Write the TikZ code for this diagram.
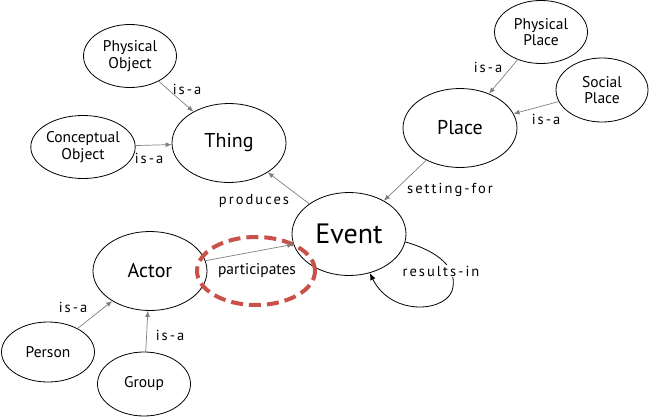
\documentclass[tikz,border=0pt]{standalone}
\usepackage{fontspec}
\setmainfont{PT Sans}
\usetikzlibrary{shapes.geometric,arrows.meta}
\definecolor{hilite}{RGB}{200,82,74}
\begin{document}
\begin{tikzpicture}[x=1pt,y=-1pt,
  ell/.style={draw=black,line width=0.8pt,ellipse,inner sep=0pt,align=center,fill=white},
  smallnode/.style={ell,minimum width=93pt,minimum height=63pt,font=\fontsize{15.5}{16.5}\selectfont},
  midnode/.style={ell,minimum width=114pt,minimum height=79pt,font=\fontsize{20}{22}\selectfont},
  bignode/.style={ell,minimum width=114pt,minimum height=83pt,font=\fontsize{28}{30}\selectfont},
  rel/.style={draw=gray,line width=0.7pt,-{Latex[length=6pt,width=5pt]}},
  res/.style={draw=black,line width=0.8pt,-{Latex[length=7pt,width=5.5pt]}},
  lab/.style={font=\fontsize{14.5}{16}\selectfont\addfontfeatures{LetterSpace=14},inner sep=1pt},
  hl/.style={draw=hilite,line width=4pt,dash pattern=on 12pt off 6pt}
]
\useasboundingbox (0,0) rectangle (649,418);

% nodes
\node[smallnode] (po) at (130,56) {Physical\\Object};
\node[smallnode] (co) at (83,147) {Conceptual\\Object};
\node[midnode] (th) at (229,143) {Thing};
\node[smallnode] (pp) at (541,32) {Physical\\Place};
\node[smallnode,minimum width=92pt,minimum height=64pt] (sp) at (602,90) {Social\\Place};
\node[midnode] (pl) at (460,128) {Place};
\node[bignode] (ev) at (349,234) {Event};
\node[midnode] (ac) at (150,271) {Actor};
\node[smallnode,minimum height=60pt] (pe) at (48,352) {Person};
\node[smallnode,minimum height=64pt] (gr) at (144,384) {Group};

% highlight
\draw[hl] (256,271) ellipse [x radius=59pt, y radius=34pt];

% relations
\draw[rel] (po) -- (th);
\draw[rel] (co) -- (th);
\draw[rel] (ev) -- (th);
\draw[rel] (pp) -- (pl);
\draw[rel] (sp) -- (pl);
\draw[rel] (pl) -- (ev);
\draw[rel] (ac) -- (ev);
\draw[rel] (pe) -- (ac);
\draw[rel] (gr) -- (ac);
\draw[res] (ev.-8) .. controls (440,252) and (456,268) .. (453,287)
                   .. controls (450,312) and (392,318) .. (ev.-62);

% labels
\node[lab] (l1) at (187,89) {is-a};
\node[lab] (l2) at (149,158) {is-a};
\node[lab] (l3) at (254,201) {produces};
\node[lab] (l4) at (488,67) {is-a};
\node[lab] (l5) at (546,119) {is-a};
\node[lab] (l6) at (450,190) {setting-for};
\node[lab,font=\fontsize{15.5}{16.5}\selectfont] (l7) at (257,271) {participates};
\node[lab] (l8) at (73,307) {is-a};
\node[lab] (l9) at (170,335) {is-a};
\node[lab,fill=white] (l10) at (441,271) {results-in};
\end{tikzpicture}
\end{document}
